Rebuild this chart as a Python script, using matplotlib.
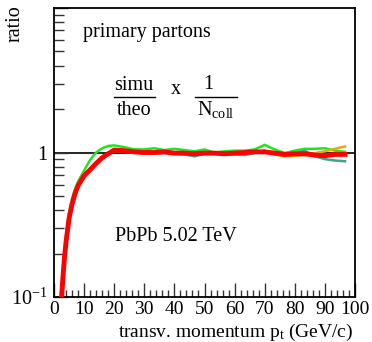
import matplotlib
matplotlib.use("Agg")
import matplotlib.pyplot as plt
from matplotlib.ticker import FixedLocator, MultipleLocator, NullFormatter

plt.rcParams['font.family'] = ['Liberation Serif', 'DejaVu Serif']
plt.rcParams['mathtext.fontset'] = 'custom'
plt.rcParams['mathtext.rm'] = 'Liberation Serif'
plt.rcParams['mathtext.it'] = 'Liberation Serif'

pt = [2.4, 3, 3.5, 4, 5, 6, 7, 8, 10, 12, 14, 16, 18, 20,
      23.3, 26.7, 30, 33.3, 36.7, 40, 43.3, 46.7, 50, 53.3, 56.7, 60,
      63.3, 66.7, 70, 73.3, 76.7, 80, 83.3, 86.7, 90, 93.3, 96.7]

green = [0.10, 0.16, 0.21, 0.27, 0.38, 0.48, 0.56, 0.63, 0.75, 0.89, 1.00, 1.07, 1.11, 1.12,
         1.09, 1.05, 1.05, 1.07, 1.04, 1.06, 1.04, 1.02, 1.05, 1.00, 1.02, 1.03,
         1.03, 1.05, 1.13, 1.05, 0.99, 1.03, 1.06, 1.06, 1.07, 1.03, 1.01]
teal = [0.08, 0.13, 0.18, 0.23, 0.34, 0.43, 0.51, 0.58, 0.68, 0.75, 0.83, 0.91, 0.97, 1.02,
        1.01, 1.00, 0.99, 0.99, 0.99, 0.98, 0.97, 0.94, 0.98, 0.98, 0.97, 0.97,
        0.96, 0.99, 1.03, 0.98, 0.95, 0.98, 1.03, 0.94, 0.90, 0.88, 0.87]
orange = [0.09, 0.14, 0.19, 0.24, 0.35, 0.44, 0.52, 0.59, 0.69, 0.76, 0.84, 0.92, 0.98, 1.04,
          1.03, 1.01, 1.00, 1.00, 1.01, 0.99, 0.99, 0.98, 0.99, 0.99, 0.98, 0.99,
          1.00, 1.01, 1.01, 0.97, 0.94, 0.95, 0.96, 0.99, 1.02, 1.06, 1.10]
red = [0.09, 0.14, 0.19, 0.24, 0.35, 0.44, 0.52, 0.59, 0.69, 0.76, 0.84, 0.92, 0.98, 1.04,
       1.03, 1.01, 1.00, 1.00, 1.01, 0.99, 0.99, 0.98, 0.99, 0.99, 0.98, 0.99,
       1.00, 1.01, 1.01, 0.99, 0.97, 0.98, 0.98, 0.96, 0.95, 0.97, 0.97]

xticks = [0, 10, 20, 30, 40, 50, 60, 70, 80, 90, 100]
yticks = [0.1, 1, 10]
ytick_labels = [r'$10^{-1}$', '1', '']

W, H = 372, 342
fig = plt.figure(figsize=(W / 100, H / 100), dpi=100)
ax = fig.add_axes([54 / W, 1 - 297 / H, (355 - 54) / W, (297 - 8) / H])
ax.set_yscale('log')
ax.set_xlim(0, 100)
ax.set_ylim(0.1, 10)

ax.axhline(1, color='black', lw=1.2, zorder=1.5)
ax.plot(pt, green, color='#1ee61e', lw=1.8, zorder=2)
ax.plot(pt, teal, color='#3aa886', lw=1.8, zorder=2.1)
ax.plot(pt, orange, color='#e8a812', lw=1.8, zorder=2.2)
ax.plot(pt, red, color='#ff0000', lw=3.5, zorder=3)

ax.set_xticks(xticks)
ax.set_xticklabels([str(v) for v in xticks])
ax.xaxis.set_minor_locator(MultipleLocator(2))
ax.yaxis.set_major_locator(FixedLocator(yticks))
ax.set_yticklabels(ytick_labels)
ax.yaxis.set_minor_locator(FixedLocator([0.2, 0.3, 0.4, 0.5, 0.6, 0.7, 0.8, 0.9,
                                         2, 3, 4, 5, 6, 7, 8, 9]))
ax.yaxis.set_minor_formatter(NullFormatter())

ax.tick_params(axis='both', which='both', direction='in', top=False, right=False,
               labelsize=14.5, width=1, color='#333333')
ax.tick_params(axis='both', which='major', length=10, pad=5)
ax.tick_params(axis='x', which='major', pad=3, labelsize=14)
ax.tick_params(axis='x', which='minor', length=5)
ax.tick_params(axis='y', which='minor', length=7)
for s in ax.spines.values():
    s.set_linewidth(1.3)

fig.text(353 / W, 1 - 337 / H, r'transv. momentum p$_{\rm t}$ (GeV/c)', ha='right',
         va='baseline', fontsize=14)
fig.text(15 / W, 1 - 5 / H, 'ratio', rotation=90, ha='center', va='top', fontsize=14.5)

fig.text(83 / W, 1 - 37 / H, 'primary partons', ha='left', va='baseline', fontsize=14.5)
fig.text(134 / W, 1 - 90 / H, 'simu', ha='center', va='baseline', fontsize=14.5)
fig.text(134 / W, 1 - 115 / H, 'theo', ha='center', va='baseline', fontsize=14.5)
fig.add_artist(plt.Line2D([114 / W, 155 / W], [1 - 97 / H, 1 - 97 / H], color='black', lw=1))
fig.text(176 / W, 1 - 94 / H, 'x', ha='center', va='baseline', fontsize=14.5)
fig.text(208 / W, 1 - 89 / H, '1', ha='center', va='baseline', fontsize=14.5)
fig.add_artist(plt.Line2D([195 / W, 237 / W], [1 - 97 / H, 1 - 97 / H], color='black', lw=1))
fig.text(197 / W, 1 - 115 / H, r'N$_{\rm coll}$', ha='left', va='baseline', fontsize=14.5)
fig.text(115 / W, 1 - 241 / H, 'PbPb 5.02 TeV', ha='left', va='baseline', fontsize=14.5)

fig.savefig('out.png', dpi=100)
